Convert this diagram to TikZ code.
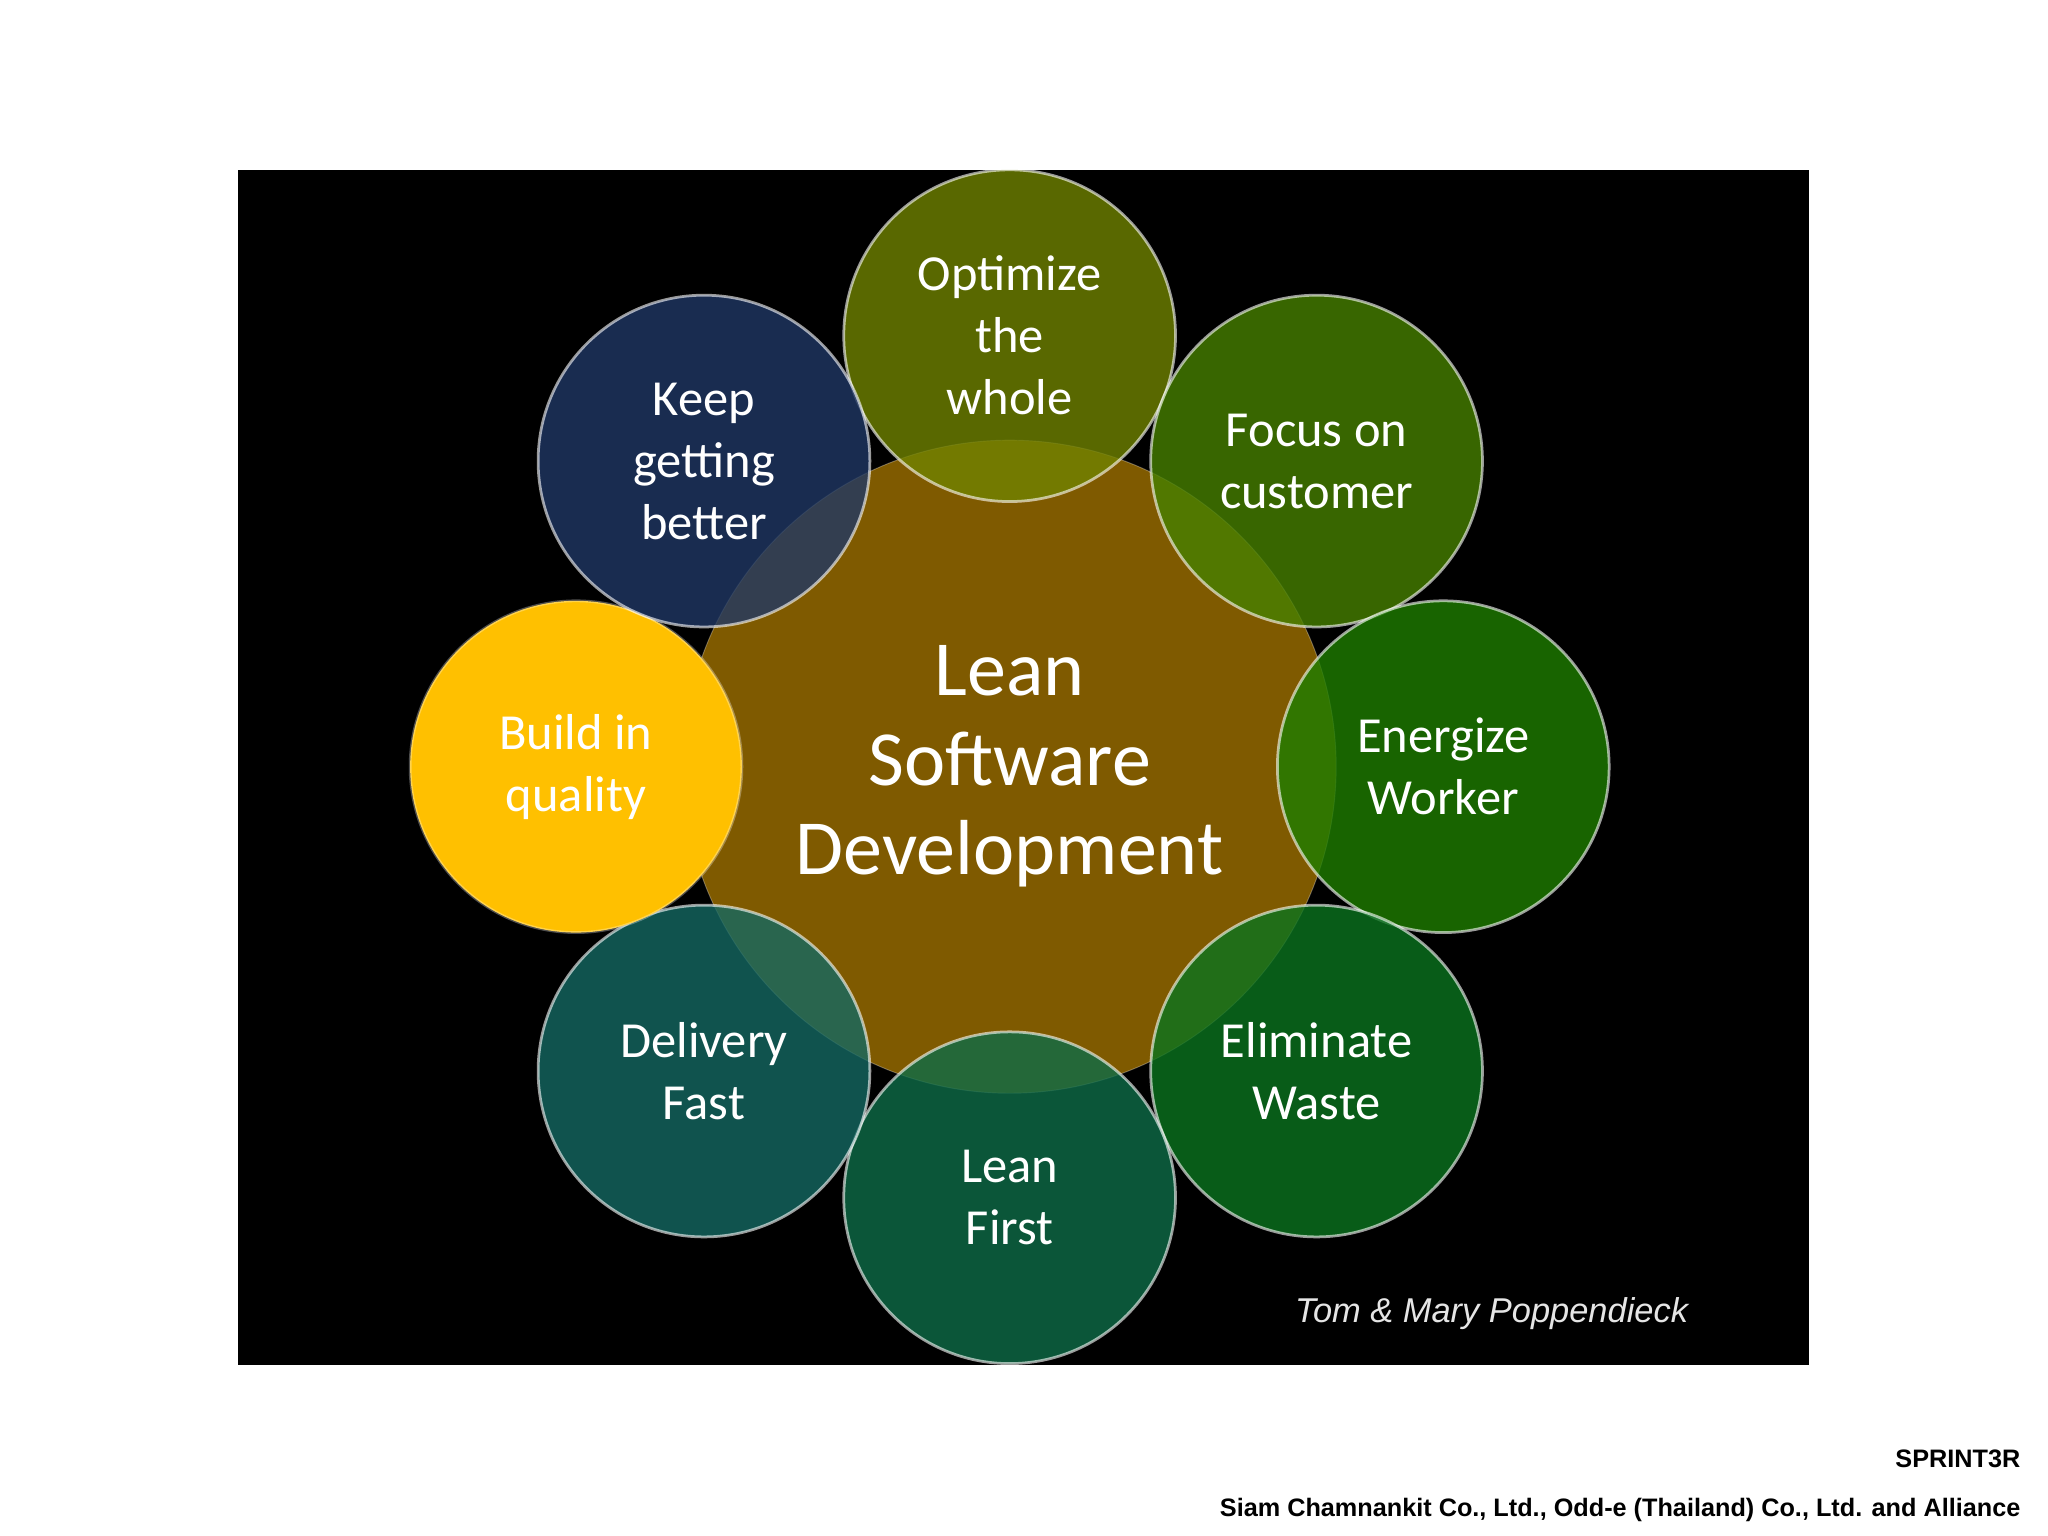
\documentclass[tikz,border=0pt]{standalone}
\usepackage{fontspec}
\setmainfont{Carlito}
\newfontfamily\arialf{Liberation Sans}
\begin{document}
\begin{tikzpicture}[x=0.02cm,y=-0.02cm,
 petal/.style={circle,minimum size=254*0.02cm,inner sep=0pt,draw=white,draw opacity=0.6,line width=1.2pt,fill opacity=0.8,text opacity=1,text=white,align=center,font=\fontsize{22}{27}\selectfont},
 ]
\useasboundingbox (0,0) rectangle (1568,1176);
\fill[black] (182,130) rectangle (1385,1045);
\node[circle,minimum size=500*0.02cm,inner sep=0pt,fill={rgb,255:red,127;green,90;blue,0},draw=white,draw opacity=0.3] (c) at (773,587) {};
\node[petal,fill={rgb,255:red,112;green,130;blue,0}] (o) at (773,257) {Optimize\\the\\whole};
\node[petal,fill={rgb,255:red,70;green,128;blue,0}] (f) at (1008,353) {Focus on\\customer};
\node[petal,fill={rgb,255:red,30;green,125;blue,0}] (e) at (1105,587) {Energize\\Worker};
\node[petal,fill={rgb,255:red,10;green,115;blue,30}] (w) at (1008,820) {Eliminate\\Waste};
\node[petal,fill={rgb,255:red,14;green,108;blue,72}] (l) at (773,917) {Lean\\First};
\node[petal,fill={rgb,255:red,20;green,104;blue,98}] (d) at (539,820) {Delivery\\Fast};
\node[petal,fill={rgb,255:red,255;green,192;blue,0},fill opacity=1,draw opacity=0.3] (b) at (441,587) {Build in\\quality};
\node[petal,fill={rgb,255:red,32;green,56;blue,100}] (k) at (539,353) {Keep\\getting\\better};
\node[text=white,align=center,font=\fontsize{34}{39}\selectfont] (ct) at (773,587) {Lean\\Software\\Development};
\node[text=white!90!black,font=\arialf\itshape\fontsize{15}{18}\selectfont] (cr) at (1142,1006) {Tom \& Mary Poppendieck};
\node[anchor=east,font=\arialf\bfseries\fontsize{11}{13}\selectfont] (s) at (1553,1117) {SPRINT3R};
\node[anchor=east,font=\arialf\bfseries\fontsize{11}{13}\selectfont] (s2) at (1553,1156) {Siam Chamnankit Co., Ltd., Odd-e (Thailand) Co., Ltd. and Alliance};
\end{tikzpicture}
\end{document}
